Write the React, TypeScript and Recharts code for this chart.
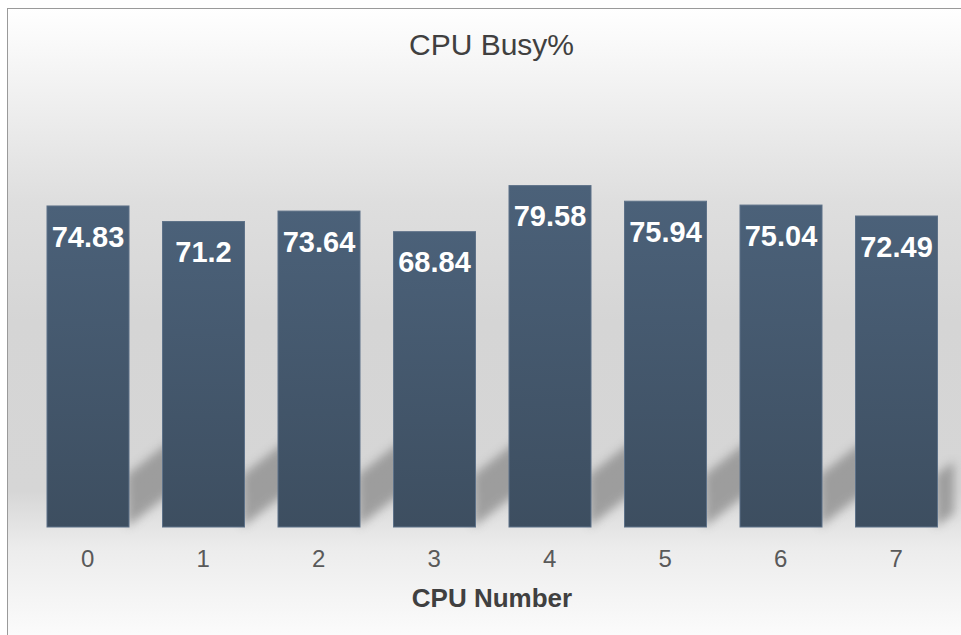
import { BarChart, Bar, XAxis, YAxis, LabelList, Label } from "recharts";

const cpuNumbers = ["0", "1", "2", "3", "4", "5", "6", "7"];
const busyPct = [74.83, 71.2, 73.64, 68.84, 79.58, 75.94, 75.04, 72.49];

const data = cpuNumbers.map((cpu, i) => ({ cpu, busy: busyPct[i] }));

const W = 953;
const H = 626;
const margin = { top: 89, right: 7, left: 22, bottom: 0 };
const plotRight = W - margin.right;
const font = "'Liberation Sans', Arial, sans-serif";

// bar with a slanted floor shadow behind it
const ShadowBar = (props: any) => {
  const { x, y, width, height } = props;
  const bottom = y + height;
  const right = x + width;
  const len = Math.min(42, plotRight - right);
  const rise = len * 0.82;
  const pts = [
    [right - 2, bottom],
    [right + len, bottom - rise],
    [right + len, bottom - rise - 52],
    [right - 2, bottom - 52],
  ]
    .map((p) => p.join(","))
    .join(" ");
  return (
    <g>
      <polygon points={pts} fill="#8a8a8a" opacity={0.75} filter="url(#shadowBlur)" />
      <rect
        x={x}
        y={y}
        width={width}
        height={height}
        fill="url(#barGrad)"
        stroke="#5d7188"
        strokeWidth={1}
      />
    </g>
  );
};

export default function App() {
  return (
    <>
      <style>{`body{margin:0;overflow:hidden}`}</style>
      <div
        style={{
          position: "absolute",
          left: 7,
          top: 8,
          width: W,
          height: H,
          borderLeft: "1px solid #9a9a9a",
          borderTop: "1px solid #9a9a9a",
          background:
            "linear-gradient(to bottom, #ffffff 0%, #f1f1f1 13%, #dedede 31%, #d5d5d5 50%, #d6d6d6 77%, #ececec 86%, #fbfbfb 100%)",
        }}
      >
        <svg
          width={W}
          height={70}
          style={{ position: "absolute", left: 0, top: 0, pointerEvents: "none" }}
        >
          <text
            x={483.5}
            y={46}
            textAnchor="middle"
            fontFamily={font}
            fontSize={30}
            fill="#404040"
          >
            CPU Busy%
          </text>
        </svg>
        <BarChart width={W} height={H} data={data} margin={margin}>
          <defs>
            <linearGradient id="barGrad" x1="0" y1="0" x2="0" y2="1">
              <stop offset="0%" stopColor="#4b6179" />
              <stop offset="100%" stopColor="#3d4e60" />
            </linearGradient>
            <filter id="shadowBlur" x="-50%" y="-50%" width="200%" height="200%">
              <feGaussianBlur stdDeviation="5" />
            </filter>
          </defs>
          <XAxis
            dataKey="cpu"
            height={108}
            axisLine={false}
            tickLine={false}
            tickSize={0}
            tickMargin={23}
            tick={{ fill: "#595959", fontSize: 24, fontFamily: font }}
          >
            <Label
              value="CPU Number"
              position="insideBottom"
              offset={28}
              fill="#404040"
              fontSize={26}
              fontWeight="bold"
              fontFamily={font}
            />
          </XAxis>
          <YAxis hide domain={[0, 100]} />
          <Bar dataKey="busy" barSize={82} shape={ShadowBar} isAnimationActive={false}>
            <LabelList
              dataKey="busy"
              position="insideTop"
              offset={20}
              fill="#ffffff"
              fontSize={29}
              fontWeight="bold"
              fontFamily={font}
            />
          </Bar>
        </BarChart>
      </div>
    </>
  );
}
